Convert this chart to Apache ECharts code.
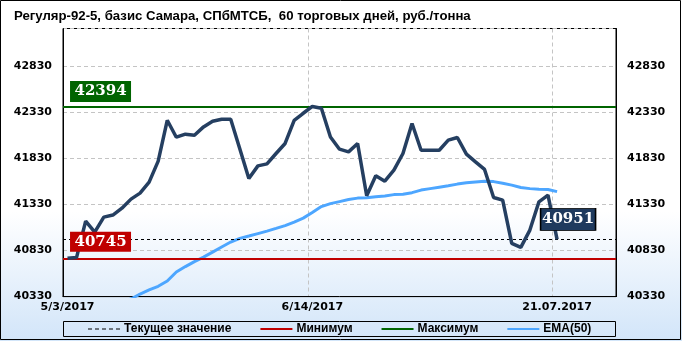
<!DOCTYPE html>
<html><head><meta charset="utf-8">
<script src="https://cdn.jsdelivr.net/npm/echarts@6/dist/echarts.min.js"></script>
<style>html,body{margin:0;padding:0;background:#fff;}#c{width:682px;height:341px;}</style>
</head><body><div id="c"></div>
<script>
// ---- data ----
const dates = [
 '2017-05-03','2017-05-04','2017-05-05','2017-05-10','2017-05-11','2017-05-12',
 '2017-05-15','2017-05-16','2017-05-17','2017-05-18','2017-05-19',
 '2017-05-22','2017-05-23','2017-05-24','2017-05-25','2017-05-26',
 '2017-05-29','2017-05-30','2017-05-31','2017-06-01','2017-06-02',
 '2017-06-05','2017-06-06','2017-06-07','2017-06-08','2017-06-09',
 '2017-06-13','2017-06-14','2017-06-15','2017-06-16',
 '2017-06-19','2017-06-20','2017-06-21','2017-06-22','2017-06-23',
 '2017-06-26','2017-06-27','2017-06-28','2017-06-29','2017-06-30',
 '2017-07-03','2017-07-04','2017-07-05','2017-07-06','2017-07-07',
 '2017-07-10','2017-07-11','2017-07-12','2017-07-13','2017-07-14',
 '2017-07-17','2017-07-18','2017-07-19','2017-07-20','2017-07-21'
];
const emptySlots = ['2017-07-24','2017-07-25','2017-07-26','2017-07-27','2017-07-28','2017-07-31'];
const price = [
 40745,40755,41150,41030,41193,41215,41290,41388,41453,41572,
 41800,42244,42060,42093,42082,42172,42234,42255,42255,41935,
 41612,41749,41771,41883,41992,42244,42320,42394,42375,42063,
 41930,41901,41992,41424,41641,41583,41702,41883,42209,41919,
 41919,41919,42028,42057,41876,41792,41710,41406,41377,40908,
 40864,41052,41359,41431,40951
];
const ema50 = [
 40020,40060,40105,40150,40195,40240,40280,40304,40358,40402,
 40442,40499,40597,40656,40710,40759,40813,40868,40922,40962,
 40987,41014,41041,41070,41101,41139,41182,41242,41307,41339,
 41361,41383,41399,41404,41415,41423,41437,41442,41458,41486,
 41502,41518,41534,41551,41565,41574,41583,41578,41561,41540,
 41515,41502,41496,41493,41469
];
const currentValue = 40951;
const minValue = 40745;
const maxValue = 42394;
const yMin = 40330, yMax = 43240, yStep = 500;
const tickLabels = {'2017-05-03':'5/3/2017','2017-06-14':'6/14/2017','2017-07-21':'21.07.2017'};
const gridLineDates = ['2017-06-14','2017-07-21'];
const titleText = 'Регуляр-92-5, базис Самара, СПбМТСБ,  60 торговых дней, руб./тонна';
const legendNames = ['Текущее значение','Минимум','Максимум','EMA(50)'];

// ---- chart ----
const categories = dates.concat(emptySlots);
const lastIdx = dates.length - 1;
const chart = echarts.init(document.getElementById('c'), null, {renderer:'canvas'});
const boxFont = {color:'#fff', fontFamily:'DejaVu Serif', fontWeight:'bold', fontSize:15};
const axisFont = {color:'#000', fontFamily:'DejaVu Sans', fontWeight:'bold', fontSize:11};
const dashIcon = 'path://M0,0h4v1h-4z M7,0h4v1h-4z M14,0h4v1h-4z M21,0h4v1h-4z M28,0h4v1h-4z';
const solidIcon = 'path://M0,0h32v2h-32z';

chart.setOption({
  animation:false,
  backgroundColor:{type:'linear',x:0,y:0,x2:0,y2:1,colorStops:[
    {offset:0,color:'#ffffff'},{offset:0.62,color:'#ffffff'},{offset:1,color:'#d2e5f9'}]},
  title:{text:titleText,left:9,top:5,textStyle:{fontFamily:'Liberation Sans',fontWeight:'bold',fontSize:13.2,color:'#000'}},
  graphic:[
    {type:'rect',shape:{x:0.5,y:0.5,width:680,height:339},style:{fill:null,stroke:'#000',lineWidth:1},silent:true},
    {type:'rect',shape:{x:63.5,y:321.5,width:552,height:15},style:{fill:null,stroke:'#000',lineWidth:1},silent:true}
  ],
  grid:{left:63,right:66,top:28.5,bottom:44.4,show:true,borderColor:'#000',borderWidth:1,backgroundColor:'transparent'},
  legend:{
    data:[
      {name:legendNames[0],icon:dashIcon,itemStyle:{color:'#000'}},
      {name:legendNames[1],icon:solidIcon,itemStyle:{color:'#c00000'}},
      {name:legendNames[2],icon:solidIcon,itemStyle:{color:'#006400'}},
      {name:legendNames[3],icon:solidIcon,itemStyle:{color:'#4da6ff'}}
    ],
    left:88,top:323,itemWidth:32,itemHeight:2,itemGap:29,padding:0,
    textStyle:{fontFamily:'Liberation Sans',fontWeight:'bold',fontSize:12,color:'#000',padding:[0,0,0,-1]},
    selectedMode:false
  },
  xAxis:{
    type:'category',data:categories,boundaryGap:true,
    axisLine:{show:true,lineStyle:{color:'#000'}},
    axisTick:{show:false},
    axisLabel:Object.assign({interval:(i,v)=>tickLabels[v]!==undefined,formatter:v=>tickLabels[v]||'',margin:5},axisFont),
    splitLine:{show:true,interval:(i,v)=>gridLineDates.indexOf(v)>=0,lineStyle:{color:'#c4c4c4',type:[4,3],width:1}}
  },
  yAxis:[
    {type:'value',min:yMin,max:yMax,interval:yStep,position:'left',
     axisLine:{show:true,lineStyle:{color:'#000'}},axisTick:{show:false},
     axisLabel:Object.assign({showMaxLabel:false,margin:11,formatter:v=>String(v)},axisFont),
     splitLine:{show:true,lineStyle:{color:'#c4c4c4',type:[4,3],width:1}}},
    {type:'value',min:yMin,max:yMax,interval:yStep,position:'right',
     axisLine:{show:true,lineStyle:{color:'#000'}},axisTick:{show:false},
     axisLabel:Object.assign({showMaxLabel:false,margin:11,formatter:v=>String(v)},axisFont),
     splitLine:{show:false}}
  ],
  series:[
    {name:'Цена',type:'line',data:price,symbol:'none',z:5,
     lineStyle:{color:'#253f61',width:3.5},itemStyle:{color:'#253f61'},
     markPoint:{silent:true,z:10,symbol:'rect',symbolSize:[55,22],symbolOffset:[11,-20],
       itemStyle:{color:'#1f3a5e',borderColor:'#000',borderWidth:1},
       label:Object.assign({show:true,position:'inside',formatter:String(currentValue)},boxFont),
       data:[{coord:[lastIdx,currentValue],value:currentValue}]}},
    {name:'EMA(50)',type:'line',data:ema50,symbol:'none',z:4,
     lineStyle:{color:'#4da6ff',width:3},itemStyle:{color:'#4da6ff'}},
    {name:legendNames[0],type:'line',data:[],symbol:'none',z:3,
     lineStyle:{color:'#000',width:1,type:[3,3]},itemStyle:{color:'#000'},
     markLine:{silent:true,symbol:'none',label:{show:false},
       lineStyle:{color:'#000',width:1,type:[3,3]},data:[{yAxis:currentValue}]}},
    {name:legendNames[1],type:'line',data:[],symbol:'none',z:3,
     lineStyle:{color:'#c00000',width:2},itemStyle:{color:'#c00000'},
     markLine:{silent:true,symbol:'none',label:{show:false},
       lineStyle:{color:'#c00000',width:2,type:'solid'},data:[{yAxis:minValue}]},
     markPoint:{silent:true,z:10,symbol:'rect',symbolSize:[61,20],symbolOffset:[33,-16.5],
       itemStyle:{color:'#c00000'},
       label:Object.assign({show:true,position:'inside',formatter:String(minValue)},boxFont),
       data:[{coord:[0,minValue],value:minValue}]}},
    {name:legendNames[2],type:'line',data:[],symbol:'none',z:3,
     lineStyle:{color:'#006400',width:2},itemStyle:{color:'#006400'},
     markLine:{silent:true,symbol:'none',label:{show:false},
       lineStyle:{color:'#006400',width:2,type:'solid'},data:[{yAxis:maxValue}]},
     markPoint:{silent:true,z:10,symbol:'rect',symbolSize:[61,21],symbolOffset:[33,-15],
       itemStyle:{color:'#006400'},
       label:Object.assign({show:true,position:'inside',formatter:String(maxValue)},boxFont),
       data:[{coord:[0,maxValue],value:maxValue}]}}
  ]
});
</script>
</body></html>
